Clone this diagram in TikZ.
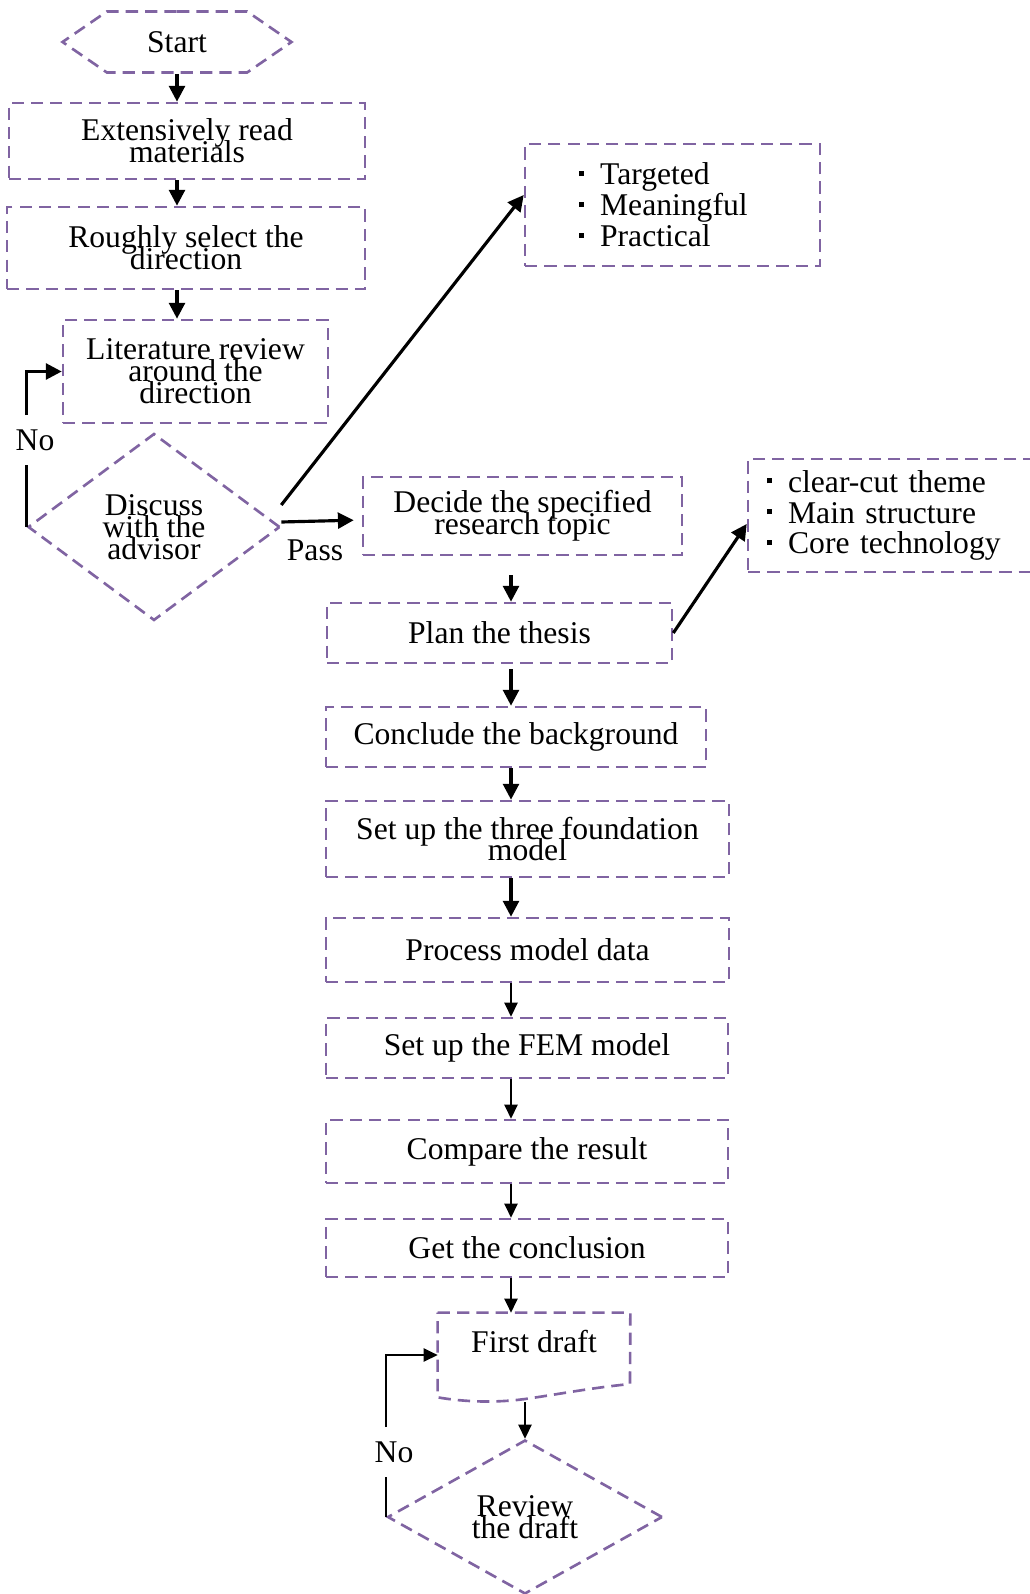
\documentclass[tikz,border=0pt]{standalone}
\usepackage{fontspec}
\setmainfont{Liberation Serif}
\usetikzlibrary{shapes.geometric, shapes.symbols, arrows.meta}

\definecolor{flowpurple}{HTML}{8064A2}
\newcommand{\sqbul}{\raisebox{0.28em}{\rule{3pt}{3pt}}\hspace{0.5em}}
\newcommand{\tightlines}{\lineskiplimit=-100pt\relax}

\begin{document}
\begin{tikzpicture}[x=0.02cm, y=-0.02cm,
    every node/.style={font=\fontsize{18}{12.5}\selectfont\tightlines, align=center, inner sep=0pt},
    dbox/.style={draw=flowpurple, dash pattern=on 7pt off 4pt, line width=1.5pt},
    list/.style={dbox, align=left, font=\fontsize{18}{17.6}\selectfont},
    decide/.style={dbox, diamond},
    lab/.style={inner ysep=8pt},
    flow/.style={-{Triangle[length=9pt, width=9pt]}, line width=1.8pt},
    thinflow/.style={-{Triangle[length=8pt, width=7.5pt]}, line width=1.1pt}]
    \useasboundingbox (0,0) rectangle (1030,1594);
    \clip (0,0) rectangle (1030,1594);

    % left column
    \node[dbox, signal, signal to=east and west, signal pointer angle=69,
          minimum width=4.58cm, minimum height=1.22cm] (start) at (177,42) {Start};
    \node[dbox, minimum width=7.12cm, minimum height=1.52cm] (read) at (187,141) {Extensively read\\materials};
    \node[dbox, minimum width=7.16cm, minimum height=1.64cm] (rough) at (186,248) {Roughly select the\\direction};
    \node[dbox, minimum width=5.3cm, minimum height=2.06cm] (lit) at (195.5,371.5) {Literature review\\around the\\direction};
    \node[decide, minimum width=5.04cm, minimum height=3.74cm] (disc) at (154,527) {Discuss\\with the\\advisor};
    \node[lab] (no1) at (35,440) {No};
    \node (pass) at (315,550) {Pass};

    % right side notes
    \node[list, text width=3.74cm, inner xsep=1.08cm, minimum height=2.44cm] (aims) at (672.5,205)
        {\sqbul Targeted\\\sqbul Meaningful\\\sqbul Practical};
    \node[list, text width=5.24cm, inner xsep=0.38cm, minimum height=2.26cm] (outline) at (898,515.5)
        {\sqbul clear-cut theme\\\sqbul Main structure\\\sqbul Core technology};

    % main column
    \node[dbox, minimum width=6.38cm, minimum height=1.56cm] (topic) at (522.5,516) {Decide the specified\\research topic};
    \node[dbox, minimum width=6.9cm, minimum height=1.2cm] (plan) at (499.5,633) {Plan the thesis};
    \node[dbox, minimum width=7.6cm, minimum height=1.2cm] (concl) at (516,737) {Conclude the background};
    \node[dbox, minimum width=8.06cm, minimum height=1.52cm] (three) at (527.5,839) {Set up the three foundation\\model};
    \node[dbox, minimum width=8.06cm, minimum height=1.28cm] (proc) at (527.5,950) {Process model data};
    \node[dbox, minimum width=8.04cm, minimum height=1.2cm] (fem) at (527,1048) {Set up the FEM model};
    \node[dbox, minimum width=8.04cm, minimum height=1.26cm] (comp) at (527,1151.5) {Compare the result};
    \node[dbox, minimum width=8.04cm, minimum height=1.16cm] (get) at (527,1248) {Get the conclusion};
    \node[minimum width=3.84cm, minimum height=1.68cm, text depth=0.56cm] (draft) at (534,1355) {First draft};
    \draw[dbox] (draft.north west) -- (draft.north east) -- (630,1384)
        .. controls (590,1388) and (560,1394) .. (525,1399)
        .. controls (495,1403) and (465,1402) .. (draft.south west) -- cycle;
    \node[decide, minimum width=5.5cm, minimum height=3.08cm] (rev) at (525,1517) {Review\\the draft};
    \node[lab] (no2) at (394,1452) {No};
    \coordinate (spine) at (511,0);

    % connectors
    \draw[flow] (start.south) -- (start.south |- read.north);
    \draw[flow] (read.south -| start.south) -- (rough.north -| start.south);
    \draw[flow] (rough.south -| start.south) -- (lit.north -| start.south);
    \draw[line width=1.8pt] (disc.west) -- (disc.west |- no1.south);
    \draw[flow] (disc.west |- no1.north) |- (lit.west);
    \draw[flow] ([yshift=0.44cm]disc.east) -- ([yshift=0.2cm]aims.west);
    \draw[flow, shorten >=0.16cm] ([yshift=0.1cm]disc.east) -- ([yshift=-0.08cm]topic.west);
    \draw[flow] (plan.east) -- ([yshift=-0.17cm]outline.west);

    \draw[flow, shorten <=0.38cm] (topic.south -| spine) -- (plan.north -| spine);
    \draw[flow, shorten <=0.1cm] (plan.south -| spine) -- (concl.north -| spine);
    \draw[flow] (concl.south -| spine) -- (three.north -| spine);
    \draw[flow] (three.south -| spine) -- (proc.north -| spine);
    \draw[thinflow] (proc.south -| spine) -- (fem.north -| spine);
    \draw[thinflow] (fem.south -| spine) -- (comp.north -| spine);
    \draw[thinflow] (comp.south -| spine) -- (get.north -| spine);
    \draw[thinflow] (get.south -| spine) -- (draft.north -| spine);
    \draw[thinflow, shorten <=0.1cm] (draft.south -| rev.north) -- (rev.north);
    \draw[line width=1.1pt] (rev.west) -- (rev.west |- no2.south);
    \draw[thinflow] (rev.west |- no2.north) |- (draft.west);
\end{tikzpicture}
\end{document}
